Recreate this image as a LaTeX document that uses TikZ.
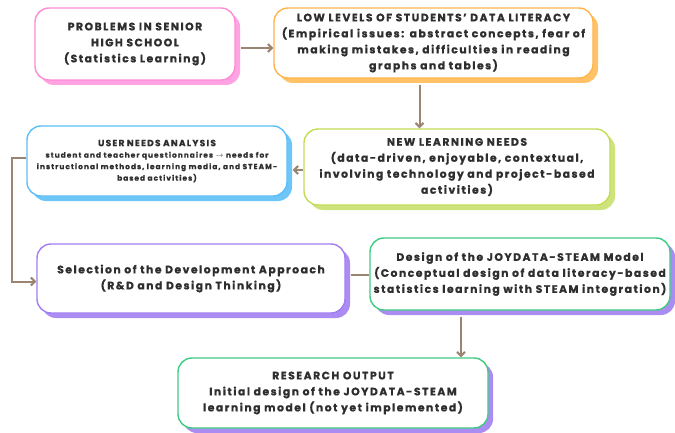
\documentclass[tikz,border=0pt]{standalone}
\usepackage{fontspec}
\setmainfont{Poppins}[LetterSpace=14,BoldFeatures={FakeBold=0.8}]
\usetikzlibrary{shadows,arrows.meta}

\definecolor{pinkline}{HTML}{FF8AD6}
\definecolor{pinkshade}{HTML}{FFA3E2}
\definecolor{orangeline}{HTML}{FFB54A}
\definecolor{orangeshade}{HTML}{FFC266}
\definecolor{limeline}{HTML}{C2DD55}
\definecolor{limeshade}{HTML}{CFE37C}
\definecolor{blueline}{HTML}{5CBFF7}
\definecolor{blueshade}{HTML}{6DC6F7}
\definecolor{purpleline}{HTML}{A27EF0}
\definecolor{purpleshade}{HTML}{AB8CF2}
\definecolor{greenline}{HTML}{3ECC82}
\definecolor{flowbrown}{HTML}{9A8570}
\definecolor{textgray}{HTML}{2E2E2E}

\tikzset{
  stage/.style 2 args={draw=#1, line width=1.4pt, rounded corners=14pt, fill=white,
    drop shadow={shadow xshift=5pt, shadow yshift=-5pt, fill=#2, opacity=1},
    align=center, inner sep=2pt, text=textgray,
    font=\bfseries\fontsize{10.8}{16}\selectfont},
  flow/.style={draw=flowbrown, line width=2pt, -{Straight Barb[length=4pt,width=8pt,line width=2pt]}},
  link/.style={draw=flowbrown, line width=2pt}
}

\begin{document}
\begin{tikzpicture}[x=1pt,y=1pt]
  \useasboundingbox (0,0) rectangle (675,432);

  % Define nodes
  \node[stage={pinkline}{pinkshade}, text width=196pt, minimum height=72pt] (problems) at (135,388)
    {PROBLEMS IN SENIOR\\HIGH SCHOOL\\(Statistics Learning)};
  \node[stage={orangeline}{orangeshade}, text width=315pt, minimum height=70pt] (literacy) at (433.5,389)
    {LOW LEVELS OF STUDENTS’ DATA LITERACY\\(Empirical issues: abstract concepts, fear of\\making mistakes, difficulties in reading\\graphs and tables)};
  \node[stage={limeline}{limeshade}, text width=302pt, minimum height=76pt] (needs) at (457,265)
    {NEW LEARNING NEEDS\\(data-driven, enjoyable, contextual,\\involving technology and project-based\\activities)};
  \node[stage={blueline}{blueshade}, text width=256pt, minimum height=70pt,
    font=\bfseries\fontsize{7.4}{11.5}\selectfont] (users) at (157,271)
    {{\fontsize{9}{11.5}\selectfont USER NEEDS ANALYSIS}\\student and teacher questionnaires $\to$ needs for\\instructional methods, learning media, and STEAM-\\based activities)};
  \node[stage={purpleline}{purpleshade}, text width=304pt, minimum height=69pt] (approach) at (191,153.5)
    {Selection of the Development Approach\\(R\&D and Design Thinking)\\[6pt]};
  \node[stage={greenline}{purpleshade}, text width=296pt, minimum height=72pt] (model) at (520,158)
    {Design of the JOYDATA-STEAM Model\\(Conceptual design of data literacy-based\\statistics learning with STEAM integration)\\[4pt]};
  \node[stage={greenline}{purpleshade}, text width=306pt, minimum height=70pt] (output) at (333,39)
    {RESEARCH OUTPUT\\Initial design of the JOYDATA-STEAM\\learning model (not yet implemented)};

  % Connect the nodes
  \draw[flow] ([xshift=5pt,yshift=-4pt]problems.east) -- ([yshift=-4pt]problems.east -| literacy.west);
  \draw[flow] ([xshift=-14pt,yshift=-6pt]literacy.south) -- ([xshift=-14pt]literacy.south |- needs.north);
  \draw[flow] ([yshift=-3pt]needs.west) -- ([xshift=5pt,yshift=-3pt]needs.west -| users.east);
  \draw[flow] ([yshift=3pt]users.west) -- ++(-14pt,0) |- ([yshift=-3pt]approach.west);
  \draw[link] ([xshift=5pt,yshift=3.5pt]approach.east) -- ([yshift=3.5pt]approach.east -| model.west);
  \draw[flow] ([xshift=-59pt,yshift=-6pt]model.south) -- ([xshift=-59pt]model.south |- output.north);

\end{tikzpicture}
\end{document}
